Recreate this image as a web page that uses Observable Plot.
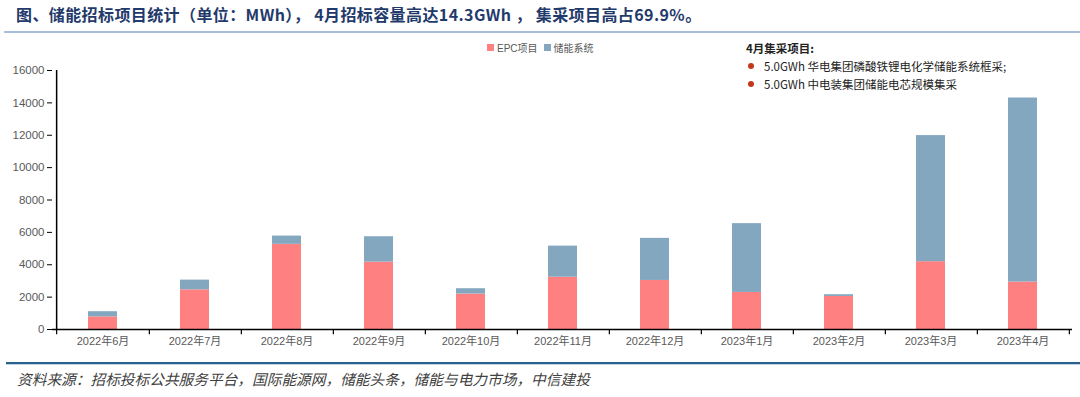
<!DOCTYPE html>
<html><head><meta charset="utf-8">
<script src="https://cdn.jsdelivr.net/npm/d3@7"></script>
<script src="https://cdn.jsdelivr.net/npm/@observablehq/plot@0.6"></script>
<style>
body{margin:0;width:1080px;height:397px;overflow:hidden;position:relative;background:#fff;font-family:Arial,"Liberation Sans","Noto Sans CJK SC",sans-serif;}
#title{position:absolute;left:16px;top:2px;font-size:16px;letter-spacing:0.4px;font-weight:bold;color:#1F3A6B;white-space:pre;font-family:"Noto Sans CJK SC",sans-serif;}
#tline{position:absolute;left:4px;right:0;top:31px;height:1.5px;background:#A9BEDD;}
#chart{position:absolute;left:0;top:34px;}
#legend{position:absolute;left:487px;top:40px;font-size:10px;color:#595959;white-space:nowrap;display:flex;align-items:center;}
#legend .sw{display:inline-block;width:7px;height:7px;margin-right:3px;}
#legend .it{display:flex;align-items:center;margin-right:6px;}
#note{position:absolute;left:746px;top:40px;font-size:11.5px;color:#222;white-space:nowrap;font-family:"Noto Sans CJK SC",sans-serif;}
#note .hd{font-weight:bold;height:17px;line-height:17px;}
#note .row{height:18px;line-height:18px;display:flex;align-items:center;}
#note .dot{display:inline-block;width:6px;height:6px;border-radius:50%;background:#C0391B;margin-left:2px;margin-right:10px;}
#fline{position:absolute;left:6px;right:0;top:362px;height:2px;background:#27628F;border-bottom:1px solid #BFD3E6;}
#foot{position:absolute;left:17px;top:368px;font-size:14.7px;font-style:italic;color:#404040;white-space:nowrap;font-family:"Noto Sans CJK SC",sans-serif;}
</style></head>
<body>
<div id="title">图、储能招标项目统计（单位：MWh）， 4月招标容量高达14.3GWh ， 集采项目高占69.9%。</div>
<div id="tline"></div>
<div id="chart"></div>
<div id="legend"></div>
<div id="note"></div>
<div id="fline"></div>
<div id="foot">资料来源：招标投标公共服务平台，国际能源网，储能头条，储能与电力市场，中信建投</div>
<script>
const months = ["2022年6月","2022年7月","2022年8月","2022年9月","2022年10月","2022年11月","2022年12月","2023年1月","2023年2月","2023年3月","2023年4月"];
const epc = [780, 2450, 5260, 4160, 2190, 3230, 3030, 2290, 2040, 4190, 2930];
const sys = [320, 600, 510, 1570, 330, 1920, 2600, 4250, 110, 7790, 11370];
const seriesNames = ["EPC项目", "储能系统"];
const colors = ["#FF8080", "#84A7C0"];
const yTicks = [0, 2000, 4000, 6000, 8000, 10000, 12000, 14000, 16000];
const noteTitle = "4月集采项目:";
const noteItems = ["5.0GWh 华电集团磷酸铁锂电化学储能系统框采;", "5.0GWh 中电装集团储能电芯规模集采"];

const data = months.flatMap((m, i) => [
  {month: m, series: seriesNames[0], value: epc[i]},
  {month: m, series: seriesNames[1], value: sys[i]}
]);

const W = 1080, H = 322, ML = 52, MR = 8;
const step = (W - ML - MR) / months.length;
const font = 'Arial, "Liberation Sans", "Noto Sans CJK SC", sans-serif';

const chart = Plot.plot({
  width: W, height: H, marginLeft: ML, marginRight: MR, marginTop: 36, marginBottom: 27,
  style: {fontFamily: font, fontSize: "11px", background: "transparent", overflow: "visible"},
  x: {domain: months, paddingInner: 0.687, paddingOuter: 0.3435, label: null},
  y: {domain: [0, 16000], label: null},
  color: {domain: seriesNames, range: colors},
  marks: [
    Plot.barY(data, {x: "month", y: "value", fill: "series", order: seriesNames}),
    Plot.axisY({ticks: yTicks, tickSize: 5, tickPadding: 3, label: null, fontSize: 11.5, stroke: "#000", fill: "#595959", tickFormat: d => String(d)}),
    Plot.axisX({tickSize: 0, tickPadding: 8, label: null, fontSize: 11, fill: "#595959"}),
    Plot.ruleY([0], {stroke: "#000", strokeWidth: 1.5}),
    Plot.ruleX([months[0]], {dx: -step / 2, y1: 0, y2: 16000, stroke: "#000", strokeWidth: 1.5}),
    Plot.ruleX(months, {dx: step / 2, y1: 0, y2: -320, stroke: "#000", strokeWidth: 1.2}),
    Plot.ruleX([months[0]], {dx: -step / 2, y1: 0, y2: -320, stroke: "#000", strokeWidth: 1.2})
  ]
});
document.getElementById("chart").appendChild(chart);

const lg = document.getElementById("legend");
seriesNames.forEach((s, i) => {
  const it = document.createElement("span"); it.className = "it";
  const sw = document.createElement("span"); sw.className = "sw"; sw.style.background = colors[i];
  it.appendChild(sw); it.appendChild(document.createTextNode(s)); lg.appendChild(it);
});
const nt = document.getElementById("note");
const hd = document.createElement("div"); hd.className = "hd"; hd.textContent = noteTitle; nt.appendChild(hd);
noteItems.forEach(t => {
  const r = document.createElement("div"); r.className = "row";
  const d = document.createElement("span"); d.className = "dot"; r.appendChild(d);
  r.appendChild(document.createTextNode(t)); nt.appendChild(r);
});
</script>
</body></html>
